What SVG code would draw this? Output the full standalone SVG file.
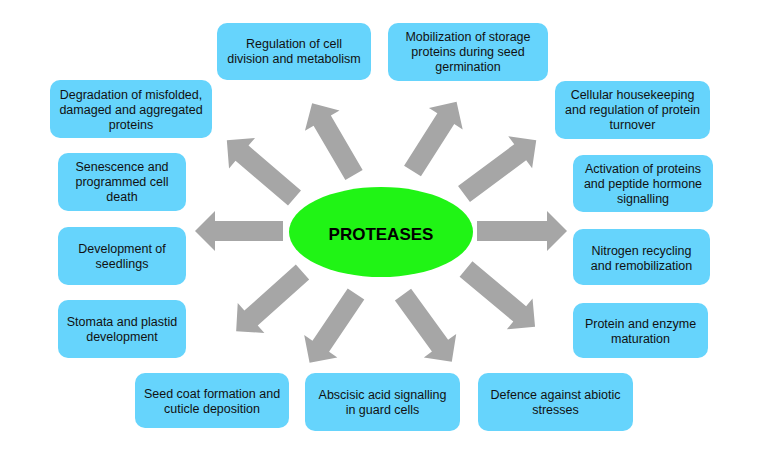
<svg xmlns="http://www.w3.org/2000/svg" width="768" height="456" viewBox="0 0 768 456">
<style>
.box{fill:#66d4fc}
.t{font-family:"Liberation Sans",Arial,sans-serif;font-size:12.5px;fill:#111;text-anchor:middle}
.arr{fill:#a6a6a6}
.hub{font-family:"Liberation Sans",Arial,sans-serif;font-size:17px;font-weight:bold;fill:#000;text-anchor:middle}
</style>
<rect width="768" height="456" fill="#fff"/>
<g id="connectors">
<path class="arr" transform="translate(283,231) rotate(180)" d="M0,-10H68V-20L88,0L68,20V10H0Z"/>
<path class="arr" transform="translate(477,231) rotate(0)" d="M0,-10H70V-20L90,0L70,20V10H0Z"/>
<path class="arr" transform="translate(294.5,198) rotate(-139.5)" d="M0,-10H69V-20L89,0L69,20V10H0Z"/>
<path class="arr" transform="translate(354,175) rotate(-120.3)" d="M0,-10H63V-20L83,0L63,20V10H0Z"/>
<path class="arr" transform="translate(412.5,171) rotate(-57.5)" d="M0,-10H62V-20L82,0L62,20V10H0Z"/>
<path class="arr" transform="translate(464,194) rotate(-36.6)" d="M0,-10H70V-20L90,0L70,20V10H0Z"/>
<path class="arr" transform="translate(302.5,272) rotate(138.2)" d="M0,-10H69V-20L89,0L69,20V10H0Z"/>
<path class="arr" transform="translate(356,294) rotate(124)" d="M0,-10H63V-20L83,0L63,20V10H0Z"/>
<path class="arr" transform="translate(403,294.7) rotate(54)" d="M0,-10H63V-20L83,0L63,20V10H0Z"/>
<path class="arr" transform="translate(466,269) rotate(39.9)" d="M0,-10H70V-20L90,0L70,20V10H0Z"/>
</g>
<g id="proteases">
<ellipse cx="381" cy="232" rx="92" ry="45" fill="#20f415"/>
<text class="hub" x="381" y="240">PROTEASES</text>
</g>
<g id="n1">
<rect class="box" x="217" y="23" width="154" height="57" rx="10"/>
<text class="t" x="294" y="48">Regulation of cell</text>
<text class="t" x="294" y="63">division and metabolism</text>
</g>
<g id="n2">
<rect class="box" x="388" y="23" width="160" height="58" rx="10"/>
<text class="t" x="468" y="41">Mobilization of storage</text>
<text class="t" x="468" y="56">proteins during seed</text>
<text class="t" x="468" y="71">germination</text>
</g>
<g id="n3">
<rect class="box" x="50" y="80" width="162" height="58" rx="10"/>
<text class="t" x="131" y="98.5">Degradation of misfolded,</text>
<text class="t" x="131" y="113.5">damaged and aggregated</text>
<text class="t" x="131" y="128.5">proteins</text>
</g>
<g id="n4">
<rect class="box" x="555" y="81" width="155" height="58" rx="10"/>
<text class="t" x="632.5" y="99">Cellular housekeeping</text>
<text class="t" x="632.5" y="114">and regulation of protein</text>
<text class="t" x="632.5" y="129">turnover</text>
</g>
<g id="n5">
<rect class="box" x="58" y="153" width="128" height="58" rx="10"/>
<text class="t" x="122" y="171">Senescence and</text>
<text class="t" x="122" y="186">programmed cell</text>
<text class="t" x="122" y="201">death</text>
</g>
<g id="n6">
<rect class="box" x="573" y="155" width="140" height="57" rx="10"/>
<text class="t" x="643" y="173">Activation of proteins</text>
<text class="t" x="643" y="188">and peptide hormone</text>
<text class="t" x="643" y="203">signalling</text>
</g>
<g id="n7">
<rect class="box" x="58" y="227" width="128" height="58" rx="10"/>
<text class="t" x="122" y="253">Development of</text>
<text class="t" x="122" y="268">seedlings</text>
</g>
<g id="n8">
<rect class="box" x="573" y="229" width="137" height="56" rx="10"/>
<text class="t" x="641.5" y="255">Nitrogen recycling</text>
<text class="t" x="641.5" y="270">and remobilization</text>
</g>
<g id="n9">
<rect class="box" x="58" y="300" width="128" height="58" rx="10"/>
<text class="t" x="122" y="326">Stomata and plastid</text>
<text class="t" x="122" y="341">development</text>
</g>
<g id="n10">
<rect class="box" x="573" y="303" width="135" height="55" rx="10"/>
<text class="t" x="640.5" y="328">Protein and enzyme</text>
<text class="t" x="640.5" y="343">maturation</text>
</g>
<g id="n11">
<rect class="box" x="135" y="373" width="154" height="55" rx="10"/>
<text class="t" x="212" y="397.5">Seed coat formation and</text>
<text class="t" x="212" y="412.5">cuticle deposition</text>
</g>
<g id="n12">
<rect class="box" x="305" y="373" width="155" height="58" rx="10"/>
<text class="t" x="382.5" y="399">Abscisic acid signalling</text>
<text class="t" x="382.5" y="414">in guard cells</text>
</g>
<g id="n13">
<rect class="box" x="478" y="373" width="155" height="58" rx="10"/>
<text class="t" x="555.5" y="399">Defence against abiotic</text>
<text class="t" x="555.5" y="414">stresses</text>
</g>
</svg>
